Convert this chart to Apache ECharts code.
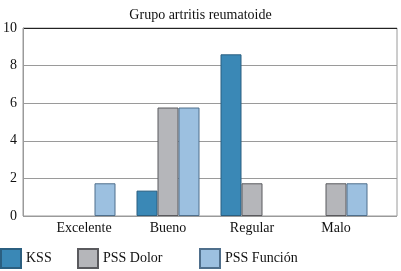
<!DOCTYPE html>
<html><head><meta charset="utf-8">
<script src="https://cdn.jsdelivr.net/npm/echarts@6/dist/echarts.min.js"></script>
<style>html,body{margin:0;padding:0;background:#fff}#c{width:401px;height:271px}</style>
</head><body><div id="c"></div>
<script>
var title = 'Grupo artritis reumatoide';
var categories = ['Excelente', 'Bueno', 'Regular', 'Malo'];
var seriesNames = ['KSS', 'PSS Dolor', 'PSS Función'];
var kss = [null, 1.35, 8.6, null];
var pssDolor = [null, 5.77, 1.74, 1.74];
var pssFuncion = [1.74, 5.77, null, 1.74];
var yTicks = [0, 2, 4, 6, 8, 10];

var font = "'Liberation Serif', serif";
var colors = ['#3a88b6', '#b5b6ba', '#9cc0e0'];
var borders = ['#2b5f80', '#5a5a5e', '#4f6f8c'];
var values = [kss, pssDolor, pssFuncion];

var chart = echarts.init(document.getElementById('c'));
var series = seriesNames.map(function (n, i) {
  return {
    name: n, type: 'bar', xAxisIndex: 1, yAxisIndex: 1,
    data: values[i], barWidth: 21, barGap: '0%',
    itemStyle: { color: colors[i], borderColor: borders[i], borderWidth: 1 }
  };
});
var legendPos = [0, 77, 199];
chart.setOption({
  animation: false,
  textStyle: { fontFamily: font },
  title: { text: title, left: 'center', top: 3, textStyle: { fontFamily: font, fontSize: 14, fontWeight: 'normal', color: '#111' } },
  grid: [
    { left: 21, right: 4, top: 28, bottom: 55, show: true, borderColor: '#9a9a9a', borderWidth: 1 },
    { left: 42, right: 23, top: 28, bottom: 55 }
  ],
  xAxis: [
    { type: 'category', gridIndex: 0, data: categories, show: false },
    { type: 'category', gridIndex: 1, data: categories,
      axisLine: { show: false }, axisTick: { show: false },
      axisLabel: { interval: 0, fontFamily: font, fontSize: 14, color: '#111', margin: 5 } }
  ],
  yAxis: [
    { type: 'value', gridIndex: 0, min: 0, max: 10, interval: 2,
      axisLine: { show: true, lineStyle: { color: '#9a9a9a' } }, axisTick: { show: false },
      axisLabel: { fontFamily: font, fontSize: 14, color: '#111', margin: 6,
        formatter: function (v) { return yTicks.indexOf(v) >= 0 ? String(v) : ''; } },
      splitLine: { show: true, lineStyle: { color: ['#9a9a9a', '#9a9a9a', '#9a9a9a', '#9a9a9a', '#9a9a9a', '#222'], width: 1 } } },
    { type: 'value', gridIndex: 1, min: 0, max: 10, show: false, splitLine: { show: false } }
  ],
  legend: seriesNames.map(function (n, i) {
    return { data: [n], left: legendPos[i], top: 248, padding: 0, itemWidth: 20, itemHeight: 19, itemGap: 4,
      textStyle: { fontFamily: font, fontSize: 14, color: '#111' },
      icon: 'rect', selectedMode: false };
  }),
  series: series
});
</script></body></html>
